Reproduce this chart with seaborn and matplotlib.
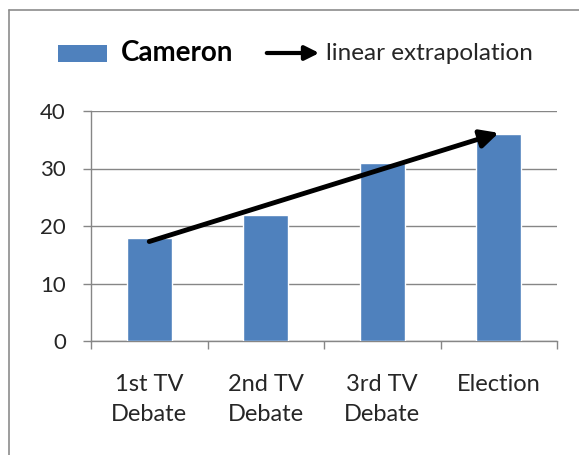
import numpy as np
import matplotlib
matplotlib.use("Agg")
import matplotlib.pyplot as plt
from matplotlib.patches import Rectangle, FancyArrowPatch
from matplotlib.lines import Line2D
import seaborn as sns

categories = ["1st TV\nDebate", "2nd TV\nDebate", "3rd TV\nDebate", "Election"]
cameron = [18, 22, 31, 36]
y_ticks = [0, 10, 20, 30, 40]
series_name = "Cameron"
trend_name = "linear extrapolation"

sns.set_theme(style="white")
plt.rcParams["font.family"] = ["Lato", "DejaVu Sans"]

W, H = 579, 455
fig = plt.figure(figsize=(W / 100, H / 100), dpi=100)
fig.patch.set_facecolor("white")

def fx(px):
    return px / W

def fy(py):
    return 1 - py / H

ax = fig.add_axes([fx(91), fy(341), fx(557) - fx(91), fy(111) - fy(341)])

bar_color = "#4F81BD"
grid_color = "#868686"
text_color = "#262626"

sns.barplot(x=categories, y=cameron, color=bar_color, width=0.39,
            saturation=1, ax=ax, zorder=3)

ax.set_ylim(0, 40)
ax.set_xlim(-0.5, len(categories) - 0.5)
ax.set_yticks(y_ticks)
ax.set_yticklabels([str(v) for v in y_ticks], fontsize=16, color=text_color)
ax.yaxis.grid(True, color=grid_color, linewidth=1.0, zorder=0)
ax.set_axisbelow(True)

for side in ("top", "right"):
    ax.spines[side].set_visible(False)
for side in ("left", "bottom"):
    ax.spines[side].set_color(grid_color)
    ax.spines[side].set_linewidth(1.0)

ax.tick_params(axis="y", which="major", length=6, width=1.0, color=grid_color,
               pad=12, left=True)
ax.tick_params(axis="x", which="major", length=0, pad=24, labelsize=17,
               labelcolor=text_color)
for lbl in ax.get_xticklabels():
    lbl.set_linespacing(1.5)
ax.set_xticks(np.arange(-0.5, len(categories)), minor=True)
ax.tick_params(axis="x", which="minor", length=6, width=1.0, color=grid_color,
               bottom=True)
ax.set_xlabel("")
ax.set_ylabel("")

# least-squares trend drawn as an arrow from the first to the last category
xs = np.arange(len(cameron))
slope, intercept = np.polyfit(xs, cameron, 1)
ax.annotate("", xy=(xs[-1], slope * xs[-1] + intercept),
            xytext=(xs[0], slope * xs[0] + intercept),
            arrowprops=dict(arrowstyle="-|>,head_length=0.9,head_width=0.45",
                            color="black", lw=3.5, shrinkA=0, shrinkB=0),
            zorder=5)

# legend row above the plot
fig.patches.append(Rectangle((fx(58), fy(62)), fx(107) - fx(58), fy(45) - fy(62),
                             transform=fig.transFigure, facecolor=bar_color,
                             edgecolor="none"))
fig.text(fx(121), fy(53), series_name, fontsize=20, fontweight="bold",
         ha="left", va="center", color="black")
fig.add_artist(FancyArrowPatch(
    (fx(264), fy(53)), (fx(322), fy(53)), transform=fig.transFigure,
    arrowstyle="-|>,head_length=0.7,head_width=0.35", color="black", lw=3.0,
    mutation_scale=12))
fig.text(fx(326), fy(53), trend_name, fontsize=17.5, ha="left", va="center",
         color=text_color)

# chart-area frame
fig.add_artist(Line2D([fx(9), fx(9)], [0, fy(10)], transform=fig.transFigure,
                      color="#8c8c8c", lw=1.2))
fig.add_artist(Line2D([fx(9), 1], [fy(10), fy(10)], transform=fig.transFigure,
                      color="#8c8c8c", lw=1.2))

fig.savefig("out.png", dpi=100)
